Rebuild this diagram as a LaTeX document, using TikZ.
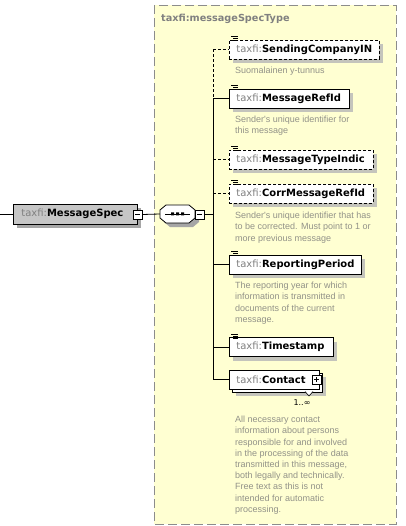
\documentclass[tikz,border=0pt]{standalone}
\usepackage{fontspec}
\setmainfont{DejaVu Sans}
\newfontfamily\descfont{Liberation Sans}
\usetikzlibrary{shadows}
\definecolor{ybg}{HTML}{FFFFD2}
\definecolor{yborder}{HTML}{8C8C8C}
\definecolor{tgray}{HTML}{808080}
\definecolor{dgray}{HTML}{929288}
\definecolor{shgray}{HTML}{C4C4BC}
\definecolor{msfill}{HTML}{C6C6C6}
\newcommand\el[1]{{\color{tgray}taxfi:}\textbf{#1}}
\tikzset{
  elbox/.style={draw=black, fill=white, line width=0.8pt, anchor=west, minimum height=19pt,
    inner xsep=7pt, inner ysep=0pt, align=left, font=\fontsize{10}{12}\selectfont,
    drop shadow={shadow xshift=4pt, shadow yshift=-4pt, fill=shgray, opacity=1}},
  optbox/.style={elbox, dash pattern=on 3pt off 2pt},
  desc/.style={anchor=north west, inner sep=0pt, align=left, text=dgray,
    font=\descfont\fontsize{9}{11.2}\selectfont},
  conn/.style={line width=0.8pt},
  optconn/.style={line width=0.8pt, dash pattern=on 3pt off 2pt},
  pm/.style={draw=black, fill=white, line width=0.6pt, minimum size=9pt, inner sep=0pt},
}
\newcommand\annot[1]{%
  \draw[line width=0.6pt] ([xshift=2pt,yshift=3pt]#1.north west) -- ++(7pt,0)
    ([xshift=4pt,yshift=1pt]#1.north west) -- ++(5pt,0)
    ([xshift=4pt,yshift=-1pt]#1.north west) -- ++(5pt,0);}
\begin{document}
\begin{tikzpicture}[x=1pt,y=-1pt]
\useasboundingbox (0,0) rectangle (405,526);
\fill[white] (0,0) rectangle (405,526);
% yellow type box
\draw[fill=ybg, draw=yborder, line width=0.8pt, dash pattern=on 9pt off 4pt] (154,5) rectangle (396,524);
\node[anchor=west, inner sep=0pt, text=tgray, font=\fontsize{9.7}{12}\selectfont\bfseries] (title) at (161,19) {taxfi:messageSpecType};

% root element
\coordinate (start) at (0,214);
\node[draw=black, fill=msfill, line width=0.8pt, anchor=west, minimum width=124pt, minimum height=20pt,
  inner xsep=8pt, inner ysep=0pt, align=left, font=\fontsize{10}{12}\selectfont, text width=108pt,
  drop shadow={shadow xshift=4pt, shadow yshift=-4pt, fill=black!35, opacity=1}] (ms) at (13,214) {\el{MessageSpec}};
\node[pm] (msm) at (137.5,214.5) {};
\draw[line width=0.6pt] ([xshift=-2.5pt]msm.center) -- ([xshift=2.5pt]msm.center);
\draw[conn] (start) -- (ms.west);

% sequence compositor
\fill[black!35] (170,209) -- (193,209) -- (199,214) -- (199,222) -- (193,227) -- (170,227) -- (164,222) -- (164,214) -- cycle;
\draw[fill=white, line width=0.8pt] (166,205) -- (189,205) -- (195,210) -- (195,218) -- (189,223) -- (166,223) -- (160,218) -- (160,210) -- cycle;
\coordinate (seqw) at (160,214);
\draw[line width=0.8pt] (165,214) -- (190,214);
\fill (171,212.5) rectangle (174,215.5) (176,212.5) rectangle (179,215.5) (181,212.5) rectangle (184,215.5);
\node[pm] (seqm) at (199.5,214.5) {};
\draw[line width=0.6pt] ([xshift=-2.5pt]seqm.center) -- ([xshift=2.5pt]seqm.center);
\draw[conn] (msm.east) -- (seqw);
\coordinate (tr) at (213,214.5);
\draw[conn] (seqm.east) -- (tr);

% children
\node[optbox, minimum width=150pt, text width=136pt] (c1) at (229,49.5) {\el{SendingCompanyIN}};
\node[elbox, minimum width=120pt, text width=106pt] (c2) at (229,98.5) {\el{MessageRefId}};
\node[optbox, minimum width=144pt, text width=130pt] (c3) at (229,159.5) {\el{MessageTypeIndic}};
\node[optbox, minimum width=144pt, text width=130pt] (c4) at (229,193.5) {\el{CorrMessageRefId}};
\node[elbox, minimum width=132pt, text width=118pt] (c5) at (229,264.5) {\el{ReportingPeriod}};
\node[elbox, minimum width=104pt, text width=90pt] (c6) at (229,347) {\el{Timestamp}};
% contact (repeated)
\fill[shgray] (236,377) rectangle (326,396);
\draw[fill=white, line width=0.8pt] (232,373) rectangle (322,392);
\node[draw=black, fill=white, line width=0.8pt, anchor=west, minimum width=90pt, minimum height=19pt,
  inner xsep=7pt, inner ysep=0pt, align=left, font=\fontsize{10}{12}\selectfont, text width=76pt] (c7) at (229,379.5) {\el{Contact}};
\node[pm] (c7p) at (316.5,379.5) {};
\draw[line width=0.6pt] ([xshift=-2.5pt]c7p.center) -- ([xshift=2.5pt]c7p.center)
  ([yshift=-2.5pt]c7p.center) -- ([yshift=2.5pt]c7p.center);
\draw[fill=white, line width=0.6pt] (305,391.5) -- (309,396) -- (313,391.5);
\node[inner sep=0pt, font=\fontsize{8}{10}\selectfont] (c7m) at (302,403) {1..∞};

\annot{c1}\annot{c2}\annot{c3}\annot{c4}\annot{c5}\annot{c6}

% trunk
\coordinate (t1) at (213,49.5);
\coordinate (t2) at (213,98.5);
\coordinate (t7) at (213,379.5);
\draw[optconn] (t1) -- (t2);
\draw[conn] (t2) -- (t7);
\draw[optconn] (t1) -- (c1.west);
\draw[conn] (t2) -- (c2.west);
\draw[optconn] (213,159.5) -- (c3.west);
\draw[optconn] (213,193.5) -- (c4.west);
\draw[conn] (213,264.5) -- (c5.west);
\draw[conn] (213,347) -- (c6.west);
\draw[conn] (t7) -- (c7.west);

% descriptions
\node[desc] (d1) at (235,67) {Suomalainen y-tunnus};
\node[desc] (d2) at (235,116) {Sender's unique identifier for\\this message};
\node[desc] (d4) at (235,212) {Sender's unique identifier that has\\to be corrected. Must point to 1 or\\more previous message};
\node[desc] (d5) at (235,282) {The reporting year for which\\information is transmitted in\\documents of the current\\message.};
\node[desc] (d7) at (235,416) {All necessary contact\\information about persons\\responsible for and involved\\in the processing of the data\\transmitted in this message,\\both legally and technically.\\Free text as this is not\\intended for automatic\\processing.};
\end{tikzpicture}
\end{document}
